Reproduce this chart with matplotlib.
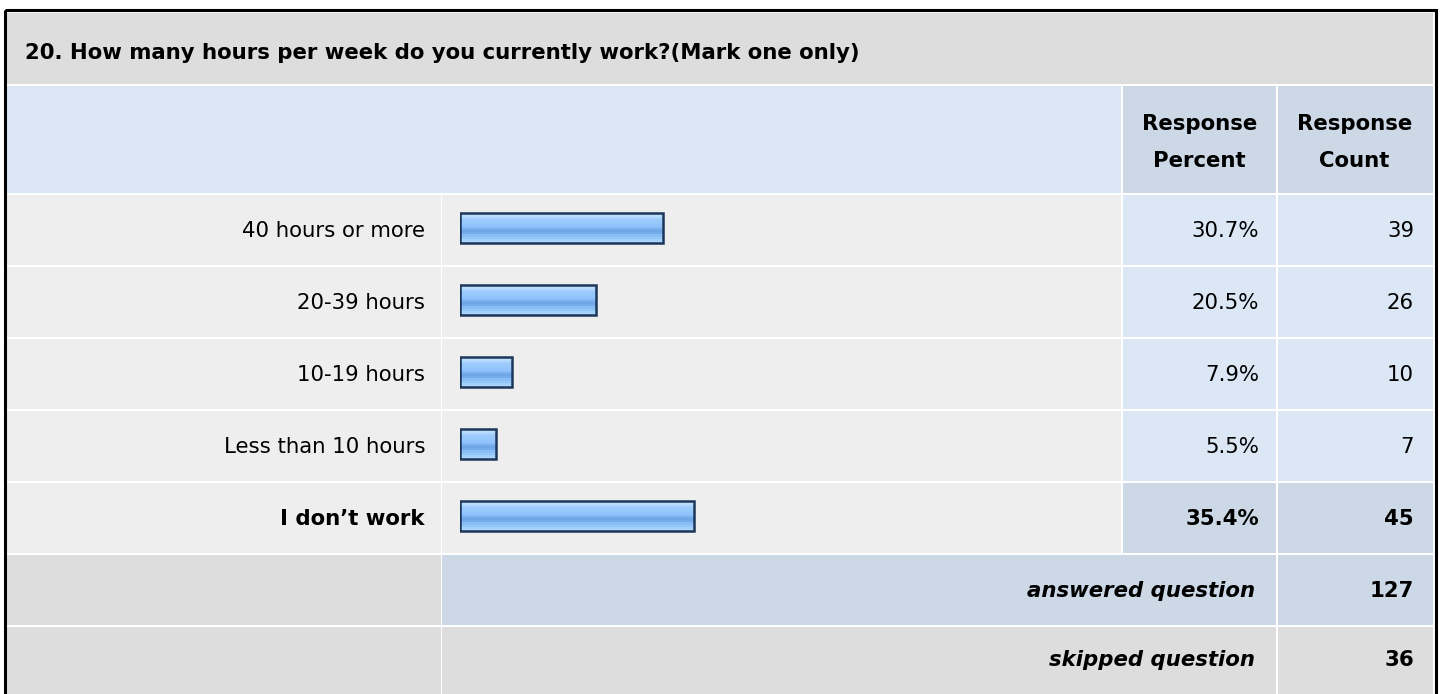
import matplotlib
matplotlib.use("Agg")
import matplotlib.pyplot as plt
from matplotlib.patches import Rectangle
from matplotlib.colors import ListedColormap
import numpy as np

plt.rcParams['font.family'] = ['DejaVu Sans']

# ---------------- data ----------------
title = "20. How many hours per week do you currently work?(Mark one only)"
categories = ["40 hours or more", "20-39 hours", "10-19 hours", "Less than 10 hours", "I don\u2019t work"]
percents = [30.7, 20.5, 7.9, 5.5, 35.4]
counts = [39, 26, 10, 7, 45]
bold_rows = [False, False, False, False, True]
answered = 127
skipped = 36
header_cols = [("Response", "Percent"), ("Response", "Count")]

# ---------------- layout (pixels) ----------------
W, H = 1440, 694
FS = 15.3
fig = plt.figure(figsize=(W / 100, H / 100), dpi=100)
fig.patch.set_facecolor("white")
ax = fig.add_axes([0, 0, 1, 1])
ax.set_xlim(0, W)
ax.set_ylim(H, 0)
ax.axis("off")

C_TITLE = "#dddddd"
C_HEAD = "#dce7f5"
C_HEADCELL = "#ccd8e6"
C_ROW = "#eeeeee"
C_CELL = "#dce7f5"
C_BOLDCELL = "#ccd8e6"
C_FOOT = "#dddddd"

col_edges = [6, 442, 1123, 1278, 1433]
gap = 2


def cell(x0, x1, y0, y1, color):
    ax.add_patch(Rectangle((x0, y0), x1 - x0, y1 - y0, facecolor=color,
                           edgecolor="none", zorder=1))


# outer border
ax.add_patch(Rectangle((4.5, 10), 1431.5, 700, facecolor="none",
                       edgecolor="black", linewidth=2.2, zorder=5))

# title row
cell(6, 1433, 13, 84, C_TITLE)
ax.text(25, 53, title, fontsize=FS, fontweight="bold", ha="left", va="center", zorder=3)

# header row
cell(6, col_edges[2] - gap, 86, 193, C_HEAD)
cell(col_edges[2], col_edges[3] - gap, 86, 193, C_HEADCELL)
cell(col_edges[3], col_edges[4], 86, 193, C_HEADCELL)
for i, (l1, l2) in enumerate(header_cols):
    cx = (col_edges[2 + i] + col_edges[3 + i] - gap) / 2
    ax.text(cx, 124, l1, fontsize=FS, fontweight="bold", ha="center", va="center", zorder=3)
    ax.text(cx, 161, l2, fontsize=FS, fontweight="bold", ha="center", va="center", zorder=3)

# data rows
row_top0 = 195
row_h = 72
for i, (cat, p, c, b) in enumerate(zip(categories, percents, counts, bold_rows)):
    y0 = row_top0 + i * row_h
    y1 = y0 + row_h - gap
    yc = (y0 + y1) / 2 + 1
    cell(col_edges[0], col_edges[1] - gap + 1, y0, y1, C_ROW)
    cell(col_edges[1], col_edges[2] - gap, y0, y1, C_ROW)
    cc = C_BOLDCELL if b else C_CELL
    cell(col_edges[2], col_edges[3] - gap, y0, y1, cc)
    cell(col_edges[3], col_edges[4], y0, y1, cc)
    fw = "bold" if b else "normal"
    ax.text(425, yc, cat, fontsize=FS, fontweight=fw, ha="right", va="center", zorder=3)
    ax.text(1259, yc, f"{p:.1f}%", fontsize=FS, fontweight=fw, ha="right", va="center", zorder=3)
    ax.text(1414, yc, f"{c}", fontsize=FS, fontweight=fw, ha="right", va="center", zorder=3)

# answered / skipped rows
y0 = row_top0 + 5 * row_h
y1 = y0 + row_h - gap
cell(col_edges[0], col_edges[1] - gap + 1, y0, y1, C_FOOT)
cell(col_edges[1], col_edges[3] - gap, y0, y1, C_BOLDCELL)
cell(col_edges[3], col_edges[4], y0, y1, C_BOLDCELL)
yc = (y0 + y1) / 2 + 1
ax.text(1255, yc, "answered question", fontsize=FS, fontweight="bold", style="italic",
        ha="right", va="center", zorder=3)
ax.text(1414, yc, f"{answered}", fontsize=FS, fontweight="bold", ha="right", va="center", zorder=3)

y0 = row_top0 + 6 * row_h
y1 = H + 5
cell(col_edges[0], col_edges[1] - gap + 1, y0, y1, C_FOOT)
cell(col_edges[1], col_edges[3] - gap, y0, y1, C_FOOT)
cell(col_edges[3], col_edges[4], y0, y1, C_FOOT)
yc = y0 + 33
ax.text(1255, yc, "skipped question", fontsize=FS, fontweight="bold", style="italic",
        ha="right", va="center", zorder=3)
ax.text(1414, yc, f"{skipped}", fontsize=FS, fontweight="bold", ha="right", va="center", zorder=3)

# ---------------- bar axes ----------------
bx0, bx1 = 460, 1121
by0, by1 = 192, 552
bax = fig.add_axes([bx0 / W, 1 - by1 / H, (bx1 - bx0) / W, (by1 - by0) / H])
bax.set_facecolor("none")
bax.axis("off")
ypos = np.arange(len(categories))
bars = bax.barh(ypos, percents, height=0.405, color="none", edgecolor="#1c3659",
                linewidth=1.8, zorder=3)

# banded glossy fill (top -> bottom)
band_colors = ["#d2e8ff", "#bcdcfe", "#a8d3fc", "#9ccbfb", "#97c8fb", "#93c5fa",
               "#8cc0f8", "#78afec", "#6fa6e6", "#74abea", "#88bef5", "#96c7fa",
               "#a3cffb", "#b0d6fc"]
cmap = ListedColormap(band_colors)
grad = np.arange(len(band_colors)).reshape(-1, 1)
for bar in bars:
    x, y, w, h = bar.get_x(), bar.get_y(), bar.get_width(), bar.get_height()
    im = bax.imshow(grad, cmap=cmap, aspect="auto", extent=(x, x + w, y + h, y),
                    origin="upper", zorder=2, interpolation="nearest")
    im.set_clip_path(bar)

bax.set_xlim(0, 100)
bax.set_ylim(len(categories) - 0.5, -0.5)

fig.savefig("out.png", dpi=100)
